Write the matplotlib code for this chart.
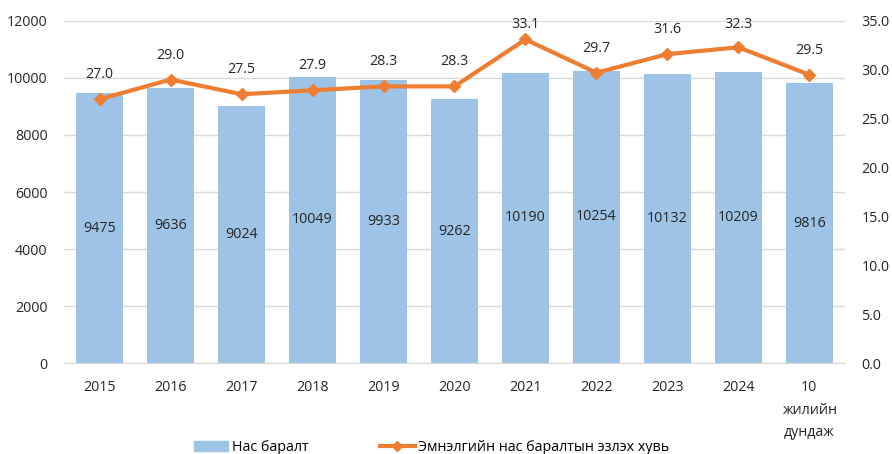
import matplotlib
matplotlib.use("Agg")
import matplotlib.pyplot as plt
from matplotlib.lines import Line2D
from matplotlib.patches import Patch

categories = ["2015", "2016", "2017", "2018", "2019", "2020", "2021", "2022", "2023", "2024", "10\nжилийн\nдундаж"]
deaths = [9475, 9636, 9024, 10049, 9933, 9262, 10190, 10254, 10132, 10209, 9816]
hospital_share = [27.0, 29.0, 27.5, 27.9, 28.3, 28.3, 33.1, 29.7, 31.6, 32.3, 29.5]
bar_label = "Нас баралт"
line_label = "Эмнэлгийн нас баралтын эзлэх хувь"

plt.rcParams['font.family'] = ['Open Sans', 'DejaVu Sans']
bar_color = "#9DC3E6"
line_color = "#ED7D31"
txt = "#262626"
fs = 10.3

fig = plt.figure(figsize=(8.92, 4.54), dpi=100)
ax = fig.add_axes([0.072, 0.2, 0.875, 0.754])
ax2 = ax.twinx()

x = list(range(len(categories)))
ax.bar(x, deaths, width=0.66, color=bar_color, zorder=2)
for xi, v in zip(x, deaths):
    ax.text(xi, v / 2, f"{v}", ha="center", va="center", fontsize=fs, color=txt, zorder=3)

ax.set_ylim(0, 12000)
ax.set_yticks(range(0, 12001, 2000))
ax.set_xlim(-0.5, len(categories) - 0.5)
ax.set_xticks(x)
ax.set_xticklabels(categories, fontsize=fs, color=txt, linespacing=1.7, va="top")
ax.tick_params(axis="both", length=0, colors=txt, labelsize=fs)
ax.tick_params(axis="x", pad=12)
ax.tick_params(axis="y", pad=12)
ax.grid(axis="y", color="#D9D9D9", linewidth=1, zorder=0)
for s in ["top", "right", "left"]:
    ax.spines[s].set_visible(False)
ax.spines["bottom"].set_color("#D9D9D9")

ax2.plot(x, hospital_share, color=line_color, linewidth=3, marker="D", markersize=6, zorder=4)
for xi, v in zip(x, hospital_share):
    ax2.text(xi, min(v + 2.5, 34.6), f"{v:.1f}", ha="center", va="center", fontsize=fs, color=txt)
ax2.set_ylim(0, 35)
ax2.set_yticks([i * 5 for i in range(8)])
ax2.set_yticklabels([f"{i*5:.1f}" for i in range(8)])
ax2.tick_params(axis="y", length=0, colors=txt, labelsize=fs, pad=12)
for s in ax2.spines.values():
    s.set_visible(False)

handles = [Patch(color=bar_color), Line2D([0], [0], color=line_color, linewidth=3, marker="D", markersize=5)]
fig.legend(handles, [bar_label, line_label], loc="center", bbox_to_anchor=(0.484, 0.014), ncol=2,
           frameon=False, fontsize=fs, columnspacing=5.0, handlelength=2.4, handletextpad=0.25,
           borderpad=0, borderaxespad=0)

fig.savefig("out.png", dpi=100)
